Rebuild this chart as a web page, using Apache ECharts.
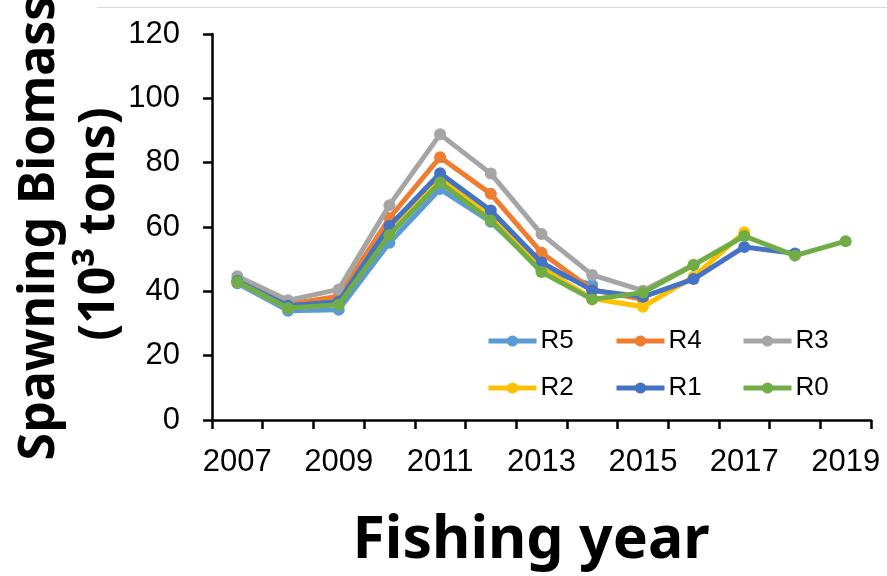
<!DOCTYPE html>
<html>
<head>
<meta charset="utf-8">
<script src="https://cdn.jsdelivr.net/npm/echarts@6/dist/echarts.min.js"></script>
<style>
html,body{margin:0;padding:0;background:#fff;}
#chart{width:887px;height:576px;}
</style>
</head>
<body>
<div id="chart"></div>
<script>
const years = ['2007','2008','2009','2010','2011','2012','2013','2014','2015','2016','2017','2018','2019'];
const seriesNames = ['R5','R4','R3','R2','R1','R0'];
const seriesColors = ['#5B9BD5','#ED7D31','#A5A5A5','#FFC000','#4472C4','#70AD47'];
const R5 = [42.5, 34.0, 34.3, 55.1, 71.8, 61.6, 46.8, 42.0];
const R4 = [43.0, 36.0, 38.5, 62.8, 81.7, 70.3, 52.0, 40.5, 37.5];
const R3 = [44.7, 37.2, 40.6, 66.8, 88.8, 76.6, 57.8, 45.1, 40.2, 48.2];
const R2 = [43.0, 34.8, 36.0, 58.0, 75.0, 63.5, 47.2, 37.8, 35.2, 44.5, 58.3];
const R1 = [43.2, 35.5, 36.8, 60.3, 76.7, 65.1, 49.0, 40.3, 38.3, 43.8, 53.8, 51.8];
const R0 = [43.0, 34.8, 35.8, 57.5, 73.8, 62.0, 46.0, 37.5, 39.6, 48.2, 57.2, 51.1, 55.6];
const yTicks = [0, 20, 40, 60, 80, 100, 120];
const allData = [R5, R4, R3, R2, R1, R0];

const chart = echarts.init(document.getElementById('chart'), null, {renderer: 'canvas'});
const numFont = '"Liberation Sans", Arial, sans-serif';
const titleFont = '"Noto Sans", "DejaVu Sans", sans-serif';

const legendPos = [
  {left: 486, top: 328}, {left: 614, top: 328}, {left: 741, top: 328},
  {left: 486, top: 375}, {left: 614, top: 375}, {left: 741, top: 375}
];

const option = {
  backgroundColor: '#ffffff',
  animation: false,
  grid: {left: 212, right: 16, top: 34, bottom: 156, containLabel: false},
  xAxis: {
    type: 'category',
    data: years,
    boundaryGap: true,
    axisLine: {lineStyle: {color: '#000', width: 2.5}},
    axisTick: {show: true, interval: 0, length: 9, lineStyle: {color: '#000', width: 2.5}},
    axisLabel: {interval: 1, color: '#000', fontSize: 31, fontFamily: numFont, margin: 27},
    splitLine: {show: false}
  },
  yAxis: {
    type: 'value',
    min: yTicks[0],
    max: yTicks[yTicks.length - 1],
    interval: 20,
    axisLine: {show: true, lineStyle: {color: '#000', width: 2.5}},
    axisTick: {show: true, length: 9, lineStyle: {color: '#000', width: 2.5}},
    axisLabel: {color: '#000', fontSize: 31, fontFamily: numFont, margin: 32},
    splitLine: {show: false}
  },
  legend: seriesNames.map((n, i) => ({
    data: [n],
    left: legendPos[i].left,
    top: legendPos[i].top,
    padding: 0,
    itemWidth: 48,
    itemHeight: 14,
    itemGap: 0,
    selectedMode: false,
    lineStyle: {width: 5},
    textStyle: {color: '#000', fontSize: 26, fontFamily: numFont, padding: [0, 0, 0, -1]}
  })),
  graphic: [
    {type: 'line', shape: {x1: 97, y1: 7.5, x2: 887, y2: 7.5}, style: {stroke: '#d9d9d9', lineWidth: 1}},
    {type: 'text', x: 40, y: 228, rotation: Math.PI / 2,
      style: {text: 'Spawning Biomass', fill: '#000', font: 'bold 50px ' + titleFont, textAlign: 'center', textVerticalAlign: 'middle'}},
    {type: 'text', x: 100, y: 224, rotation: Math.PI / 2,
      style: {text: '(10\u00B3 tons)', fill: '#000', font: 'bold 50px ' + titleFont, textAlign: 'center', textVerticalAlign: 'middle'}},
    {type: 'text', x: 531, y: 541,
      style: {text: 'Fishing year', fill: '#000', font: 'bold 59px ' + titleFont, textAlign: 'center', textVerticalAlign: 'middle'}}
  ],
  series: seriesNames.map((n, i) => ({
    name: n,
    type: 'line',
    data: allData[i],
    color: seriesColors[i],
    symbol: 'circle',
    symbolSize: 12,
    lineStyle: {width: 5, color: seriesColors[i]},
    itemStyle: {color: seriesColors[i]},
    emphasis: {disabled: true},
    z: 2 + i
  }))
};
chart.setOption(option);
</script>
</body>
</html>
